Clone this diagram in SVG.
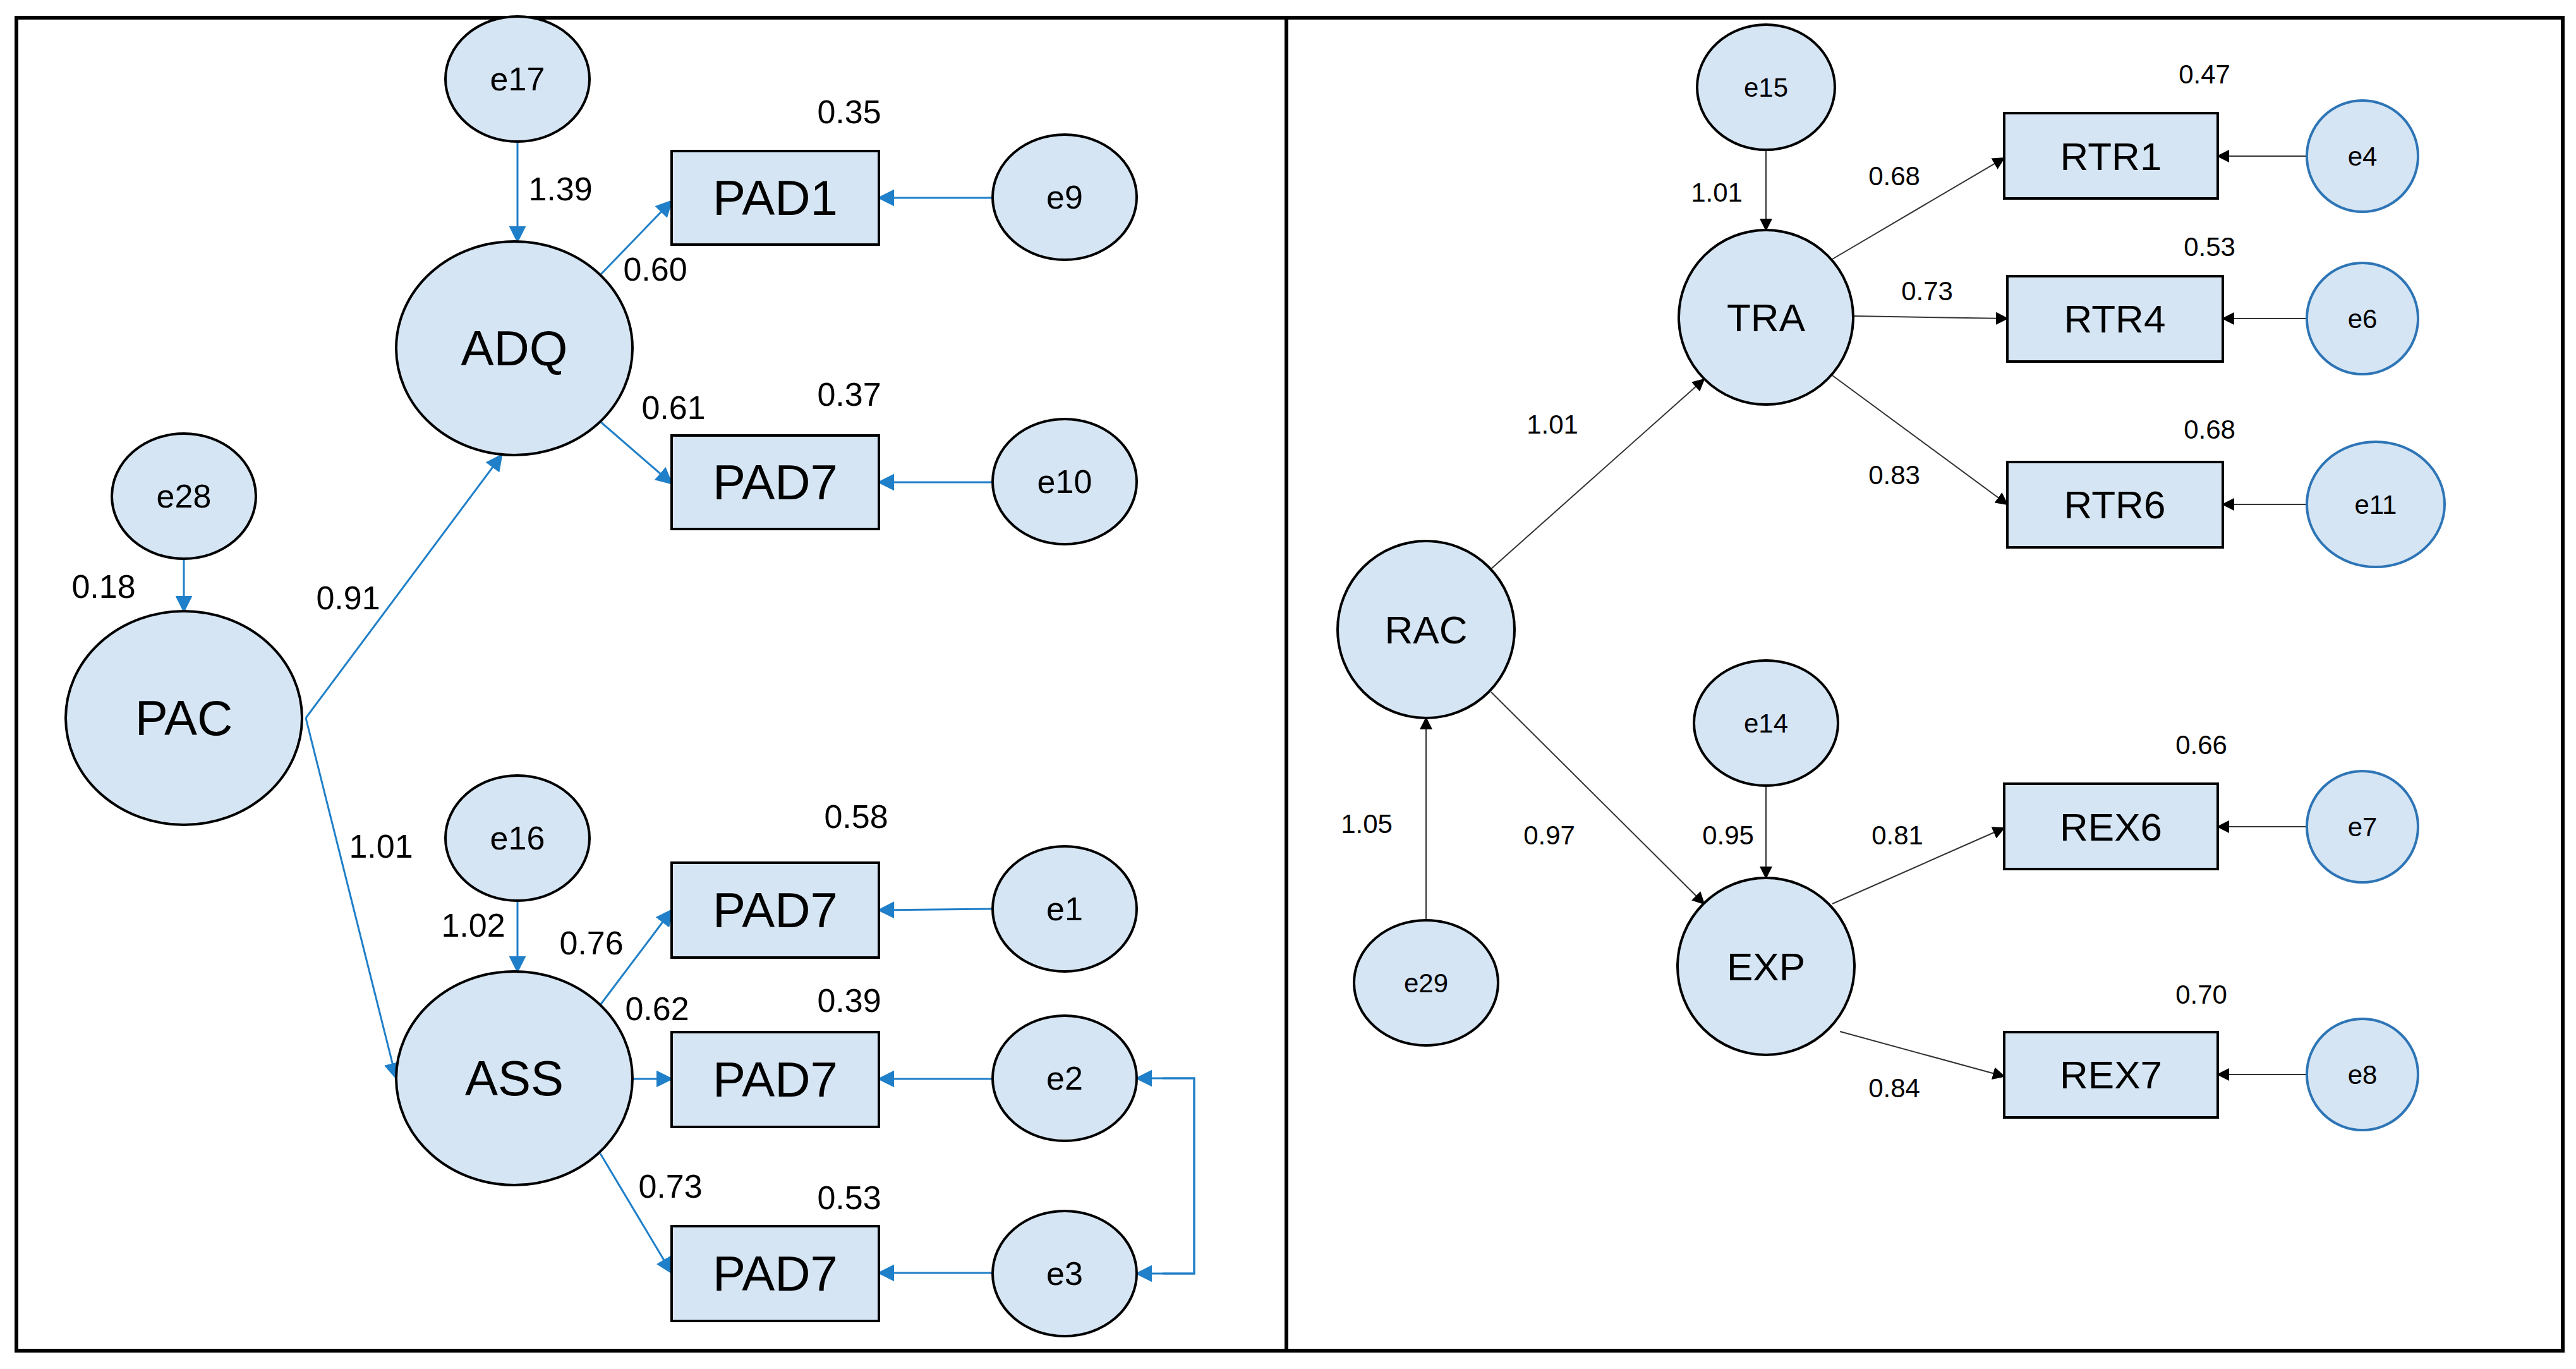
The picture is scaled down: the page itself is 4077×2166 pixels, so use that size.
<svg xmlns="http://www.w3.org/2000/svg" width="4077" height="2166" viewBox="0 0 4077 2166">
<defs>
<marker id="ab" viewBox="0 0 10 10" refX="9" refY="5" markerWidth="7" markerHeight="7" markerUnits="userSpaceOnUse" orient="auto"><path d="M0,0 L10,5 L0,10 z" fill="#1f7fc8"/></marker>
<marker id="ab2" viewBox="0 0 10 10" refX="9" refY="5" markerWidth="9" markerHeight="9" orient="auto"><path d="M0,0 L10,5 L0,10 z" fill="#1f7fc8"/></marker>
<marker id="ak" viewBox="0 0 10 10" refX="9" refY="5" markerWidth="10" markerHeight="10" orient="auto"><path d="M0,0 L10,5 L0,10 z" fill="#000"/></marker>
<style>
.n{fill:#d5e5f4;stroke:#000;stroke-width:4}
.nb{fill:#d5e5f4;stroke:#2e75b6;stroke-width:4}
.t{font-family:"Liberation Sans",Arial,sans-serif;text-anchor:middle;dominant-baseline:central;fill:#000}
.big{font-size:78px}.mid{font-size:52px}.rb{font-size:62px}.rs{font-size:42px}
.eb{stroke:#1f7fc8;stroke-width:3;fill:none;marker-end:url(#ab2)}
.ek{stroke:#333;stroke-width:2;fill:none;marker-end:url(#ak)}
</style>
</defs>
<rect x="0" y="0" width="4077" height="2166" fill="#fff"/>
<rect x="26" y="28" width="2010" height="2109" fill="none" stroke="#000" stroke-width="6"/>
<rect x="2036" y="28" width="2020" height="2109" fill="none" stroke="#000" stroke-width="6"/>
<g id="connectors">
<line class="eb" x1="819" y1="224" x2="819" y2="382"/>
<line class="eb" x1="950" y1="435" x2="1063" y2="318"/>
<line class="eb" x1="950" y1="667" x2="1063" y2="765"/>
<line class="eb" x1="1571" y1="313" x2="1391" y2="313"/>
<line class="eb" x1="1571" y1="763" x2="1391" y2="763"/>
<line class="eb" x1="291" y1="884" x2="291" y2="967"/>
<line class="eb" x1="484" y1="1136" x2="794" y2="720"/>
<line class="eb" x1="484" y1="1136" x2="627" y2="1706"/>
<line class="eb" x1="819" y1="1425" x2="819" y2="1537"/>
<line class="eb" x1="950" y1="1590" x2="1063" y2="1440"/>
<line class="eb" x1="1001" y1="1707" x2="1063" y2="1707"/>
<line class="eb" x1="950" y1="1825" x2="1063" y2="2014"/>
<line class="eb" x1="1571" y1="1438" x2="1391" y2="1440"/>
<line class="eb" x1="1571" y1="1707" x2="1391" y2="1707"/>
<line class="eb" x1="1571" y1="2014" x2="1391" y2="2014"/>
<path class="eb" d="M1840,1706 H1890 V2015 H1799" style="marker-start:none"/>
<path class="eb" d="M1840,2015 H1890 V1706 H1799"/>
<line class="ek" x1="2795" y1="237" x2="2795" y2="364"/>
<line class="ek" x1="2900" y1="410" x2="3172" y2="250"/>
<line class="ek" x1="2933" y1="500" x2="3177" y2="504"/>
<line class="ek" x1="2900" y1="594" x2="3177" y2="798"/>
<line class="ek" x1="3651" y1="247" x2="3510" y2="247"/>
<line class="ek" x1="3651" y1="504" x2="3518" y2="504"/>
<line class="ek" x1="3651" y1="798" x2="3518" y2="798"/>
<line class="ek" x1="2360" y1="900" x2="2697" y2="600"/>
<line class="ek" x1="2360" y1="1095" x2="2697" y2="1430"/>
<line class="ek" x1="2257" y1="1456" x2="2257" y2="1136"/>
<line class="ek" x1="2795" y1="1243" x2="2795" y2="1389"/>
<line class="ek" x1="2900" y1="1430" x2="3172" y2="1310"/>
<line class="ek" x1="2912" y1="1632" x2="3172" y2="1703"/>
<line class="ek" x1="3651" y1="1308" x2="3510" y2="1308"/>
<line class="ek" x1="3651" y1="1700" x2="3510" y2="1700"/>
</g>
<g id="e17"><ellipse class="n" cx="819" cy="125" rx="114" ry="99"/><text class="t mid" x="819" y="125">e17</text></g>
<g id="ADQ"><ellipse class="n" cx="814" cy="551" rx="187" ry="169"/><text class="t big" x="814" y="551">ADQ</text></g>
<g id="PAD1"><rect class="n" x="1063" y="239" width="328" height="148"/><text class="t big" x="1227" y="313">PAD1</text></g>
<g id="e9"><ellipse class="n" cx="1685" cy="312" rx="114" ry="99"/><text class="t mid" x="1685" y="312">e9</text></g>
<g id="PAD7a"><rect class="n" x="1063" y="689" width="328" height="148"/><text class="t big" x="1227" y="763">PAD7</text></g>
<g id="e10"><ellipse class="n" cx="1685" cy="762" rx="114" ry="99"/><text class="t mid" x="1685" y="762">e10</text></g>
<g id="e28"><ellipse class="n" cx="291" cy="785" rx="114" ry="99"/><text class="t mid" x="291" y="785">e28</text></g>
<g id="PAC"><ellipse class="n" cx="291" cy="1136" rx="187" ry="169"/><text class="t big" x="291" y="1136">PAC</text></g>
<g id="e16"><ellipse class="n" cx="819" cy="1326" rx="114" ry="99"/><text class="t mid" x="819" y="1326">e16</text></g>
<g id="ASS"><ellipse class="n" cx="814" cy="1706" rx="187" ry="169"/><text class="t big" x="814" y="1706">ASS</text></g>
<g id="PAD7b"><rect class="n" x="1063" y="1365" width="328" height="150"/><text class="t big" x="1227" y="1440">PAD7</text></g>
<g id="e1"><ellipse class="n" cx="1685" cy="1438" rx="114" ry="99"/><text class="t mid" x="1685" y="1438">e1</text></g>
<g id="PAD7c"><rect class="n" x="1063" y="1633" width="328" height="150"/><text class="t big" x="1227" y="1708">PAD7</text></g>
<g id="e2"><ellipse class="n" cx="1685" cy="1706" rx="114" ry="99"/><text class="t mid" x="1685" y="1706">e2</text></g>
<g id="PAD7d"><rect class="n" x="1063" y="1940" width="328" height="150"/><text class="t big" x="1227" y="2015">PAD7</text></g>
<g id="e3"><ellipse class="n" cx="1685" cy="2015" rx="114" ry="99"/><text class="t mid" x="1685" y="2015">e3</text></g>
<g id="labels-left">
<text class="t mid" x="887" y="299">1.39</text><text class="t mid" x="1344" y="177">0.35</text>
<text class="t mid" x="1037" y="426">0.60</text><text class="t mid" x="1066" y="645">0.61</text>
<text class="t mid" x="1344" y="624">0.37</text><text class="t mid" x="164" y="928">0.18</text>
<text class="t mid" x="551" y="946">0.91</text><text class="t mid" x="603" y="1339">1.01</text>
<text class="t mid" x="749" y="1464">1.02</text><text class="t mid" x="936" y="1492">0.76</text>
<text class="t mid" x="1355" y="1292">0.58</text><text class="t mid" x="1040" y="1596">0.62</text>
<text class="t mid" x="1344" y="1583">0.39</text><text class="t mid" x="1061" y="1877">0.73</text>
<text class="t mid" x="1344" y="1895">0.53</text>
</g>
<g id="e15"><ellipse class="n" cx="2795" cy="138" rx="109" ry="99"/><text class="t rs" x="2795" y="138">e15</text></g>
<g id="TRA"><circle class="n" cx="2795" cy="502" r="138"/><text class="t rb" x="2795" y="502">TRA</text></g>
<g id="RTR1"><rect class="n" x="3172" y="179" width="338" height="135"/><text class="t rb" x="3341" y="247">RTR1</text></g>
<g id="e4"><circle class="nb" cx="3739" cy="247" r="88"/><text class="t rs" x="3739" y="247">e4</text></g>
<g id="RTR4"><rect class="n" x="3177" y="437" width="341" height="135"/><text class="t rb" x="3347" y="504">RTR4</text></g>
<g id="e6"><circle class="nb" cx="3739" cy="504" r="88"/><text class="t rs" x="3739" y="504">e6</text></g>
<g id="RTR6"><rect class="n" x="3177" y="731" width="341" height="135"/><text class="t rb" x="3347" y="798">RTR6</text></g>
<g id="e11"><ellipse class="nb" cx="3760" cy="798" rx="109" ry="99"/><text class="t rs" x="3760" y="798">e11</text></g>
<g id="RAC"><circle class="n" cx="2257" cy="996" r="140"/><text class="t rb" x="2257" y="996">RAC</text></g>
<g id="e29"><ellipse class="n" cx="2257" cy="1555" rx="114" ry="99"/><text class="t rs" x="2257" y="1555">e29</text></g>
<g id="e14"><ellipse class="n" cx="2795" cy="1144" rx="114" ry="99"/><text class="t rs" x="2795" y="1144">e14</text></g>
<g id="EXP"><circle class="n" cx="2795" cy="1529" r="140"/><text class="t rb" x="2795" y="1529">EXP</text></g>
<g id="REX6"><rect class="n" x="3172" y="1240" width="338" height="135"/><text class="t rb" x="3341" y="1308">REX6</text></g>
<g id="e7"><circle class="nb" cx="3739" cy="1308" r="88"/><text class="t rs" x="3739" y="1308">e7</text></g>
<g id="REX7"><rect class="n" x="3172" y="1633" width="338" height="135"/><text class="t rb" x="3341" y="1700">REX7</text></g>
<g id="e8"><circle class="nb" cx="3739" cy="1700" r="88"/><text class="t rs" x="3739" y="1700">e8</text></g>
<g id="labels-right">
<text class="t rs" x="2717" y="304">1.01</text><text class="t rs" x="2998" y="278">0.68</text>
<text class="t rs" x="3489" y="117">0.47</text><text class="t rs" x="3050" y="460">0.73</text>
<text class="t rs" x="3497" y="390">0.53</text><text class="t rs" x="2998" y="751">0.83</text>
<text class="t rs" x="3497" y="679">0.68</text><text class="t rs" x="2457" y="671">1.01</text>
<text class="t rs" x="2452" y="1321">0.97</text><text class="t rs" x="2163" y="1303">1.05</text>
<text class="t rs" x="2735" y="1321">0.95</text><text class="t rs" x="3003" y="1321">0.81</text>
<text class="t rs" x="3484" y="1178">0.66</text><text class="t rs" x="3484" y="1573">0.70</text>
<text class="t rs" x="2998" y="1721">0.84</text>
</g>
</svg>
